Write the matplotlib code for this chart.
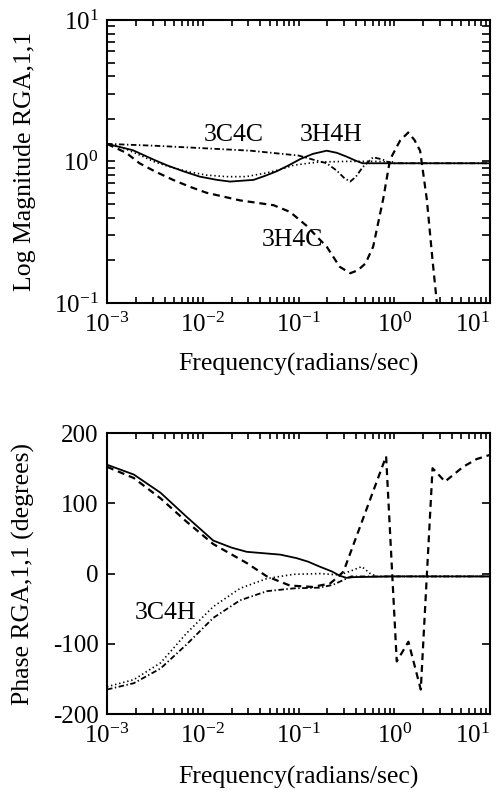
import matplotlib
matplotlib.use('Agg')
import matplotlib.pyplot as plt
import numpy as np
from matplotlib.ticker import LogLocator, NullFormatter

plt.rcParams['font.family'] = ['Liberation Serif', 'DejaVu Serif']
plt.rcParams['mathtext.fontset'] = 'custom'
plt.rcParams['mathtext.rm'] = 'Liberation Serif'
plt.rcParams['mathtext.default'] = 'regular'
plt.rcParams['axes.unicode_minus'] = False
plt.rcParams['lines.scale_dashes'] = False

# --- magnitude data (log10 of frequency, magnitude) ---
mag_3h4h_lf = [-3.0, -2.73, -2.5, -2.377, -2.2, -2.03, -1.85, -1.715, -1.47, -1.35,
               -1.23, -1.1, -0.98, -0.85, -0.706, -0.6, -0.497, -0.4, -0.33, 0.0, 1.0]
mag_3h4h = [1.33, 1.20, 1.02, 0.94, 0.85, 0.78, 0.74, 0.72, 0.74, 0.79,
            0.85, 0.94, 1.04, 1.13, 1.19, 1.15, 1.08, 1.01, 0.97, 0.97, 0.97]

mag_dot_lf = [-3.0, -2.8, -2.66, -2.5, -2.31, -2.13, -1.96, -1.75, -1.55, -1.33,
              -1.18, -1.05, -0.9, -0.775, -0.5, -0.2, 0.0]
mag_dot = [1.33, 1.22, 1.11, 0.99, 0.90, 0.84, 0.80, 0.78, 0.78, 0.83,
           0.88, 0.94, 0.97, 0.99, 1.0, 1.0, 0.99]

mag_3c4c_lf = [-3.0, -2.5, -2.0, -1.5, -1.0, -0.85, -0.706, -0.6, -0.52, -0.46,
               -0.4, -0.33, -0.22, -0.12, -0.04, 1.0]
mag_3c4c = [1.33, 1.29, 1.24, 1.19, 1.10, 1.03, 0.97, 0.86, 0.76, 0.72,
            0.78, 0.91, 1.07, 1.03, 0.97, 0.97]

mag_3h4c_lf = [-3.0, -2.8, -2.66, -2.5, -2.31, -2.13, -1.96, -1.61, -1.26, -1.09,
               -0.914, -0.8, -0.706, -0.57, -0.46, -0.38, -0.3, -0.22, -0.116, -0.044,
               0.06, 0.146, 0.21, 0.27, 0.34, 0.40, 0.445]
mag_3h4c = [1.33, 1.15, 0.97, 0.85, 0.74, 0.66, 0.60, 0.53, 0.49, 0.44,
            0.35, 0.29, 0.25, 0.18, 0.162, 0.17, 0.19, 0.25, 0.54, 1.03,
            1.40, 1.60, 1.42, 1.19, 0.54, 0.2, 0.1]

# --- phase data (log10 of frequency, degrees) ---
ph_solid_lf = [-3.0, -2.72, -2.44, -2.17, -1.89, -1.7, -1.54, -1.19, -1.02, -0.9,
               -0.78, -0.65, -0.57, -0.5, -0.42, 0.0, 1.0]
ph_solid = [155, 141, 115, 81, 47, 37, 31, 27, 22, 17,
            10, 3, -3, -6, -5, -4, -4]

ph_dash_lf = [-3.0, -2.72, -2.44, -2.17, -1.89, -1.54, -1.33, -1.09, -0.85, -0.67,
              -0.59, -0.53, -0.085, 0.026, 0.148, 0.277, 0.40, 0.53, 0.72, 0.86, 1.0]
ph_dash = [152, 136, 107, 74, 42, 15, -4, -17, -19, -14,
           -5, 3, 167, -125, -97, -165, 150, 131, 152, 163, 169]

ph_dot_lf = [-3.0, -2.72, -2.44, -2.17, -1.89, -1.61, -1.33, -1.05, -0.77, -0.57,
             -0.43, -0.34, -0.25, -0.18, 1.0]
ph_dot = [-161, -151, -127, -85, -47, -21, -7, -1, 0, -2,
          5, 10, 0, -4, -4]

ph_dd_lf = [-3.0, -2.72, -2.44, -2.17, -1.89, -1.61, -1.33, -1.05, -0.78, -0.64,
            -0.53, -0.45, 1.0]
ph_dd = [-165, -156, -135, -101, -63, -38, -25, -21, -20, -16,
         -9, -4, -4]

xticks = [1e-3, 1e-2, 1e-1, 1e0, 1e1]
ph_ticks = [-200, -100, 0, 100, 200]

solid = dict(color='k', lw=1.3, ls='-')
dashed = dict(color='k', lw=1.6, dashes=(5, 3.5))
dotted = dict(color='k', lw=1.2, dashes=(1, 2))
dashdot = dict(color='k', lw=1.3, dashes=(4, 1.8, 1, 1.8))

fig = plt.figure(figsize=(5, 7.97), dpi=100)
ax1 = fig.add_axes([0.214, 0.620, 0.766, 0.355])
ax2 = fig.add_axes([0.214, 0.104, 0.766, 0.3526])

f = lambda lf: 10.0 ** np.asarray(lf)

ax1.plot(f(mag_dot_lf), mag_dot, **dotted)
ax1.plot(f(mag_3c4c_lf), mag_3c4c, **dashdot)
ax1.plot(f(mag_3h4c_lf), mag_3h4c, **dashed)
ax1.plot(f(mag_3h4h_lf), mag_3h4h, **solid)
ax1.set_xscale('log')
ax1.set_yscale('log')
ax1.set_xlim(1e-3, 1e1)
ax1.set_ylim(1e-1, 1e1)
ax1.text(0.0212, 1.54, '3C4C', fontsize=18.5, ha='center', va='center')
ax1.text(0.219, 1.54, '3H4H', fontsize=18.5, ha='center', va='center')
ax1.text(0.0855, 0.279, '3H4C', fontsize=18.5, ha='center', va='center')
ax1.set_xlabel('Frequency(radians/sec)', fontsize=18.5, va='top')
ax1.set_ylabel('Log Magnitude RGA,1,1', fontsize=18.5)
ax1.xaxis.set_label_coords(0.5, -0.177)
ax1.yaxis.set_label_coords(-0.185, 0.5)
ax1.yaxis.set_major_locator(LogLocator(base=10))
ax1.yaxis.set_minor_locator(LogLocator(base=10, subs=np.arange(2, 10)))
ax1.yaxis.set_minor_formatter(NullFormatter())

ax2.plot(f(ph_dot_lf), ph_dot, **dotted)
ax2.plot(f(ph_dd_lf), ph_dd, **dashdot)
ax2.plot(f(ph_dash_lf), ph_dash, **dashed)
ax2.plot(f(ph_solid_lf), ph_solid, **solid)
ax2.set_xscale('log')
ax2.set_xlim(1e-3, 1e1)
ax2.set_ylim(-200, 200)
ax2.set_yticks(ph_ticks)
ax2.text(0.00404, -56, '3C4H', fontsize=18.5, ha='center', va='center')
ax2.set_xlabel('Frequency(radians/sec)', fontsize=18.5, va='top')
ax2.set_ylabel('Phase RGA,1,1 (degrees)', fontsize=18.5)
ax2.xaxis.set_label_coords(0.5, -0.185)
ax2.yaxis.set_label_coords(-0.188, 0.5)

for ax in (ax1, ax2):
    ax.set_xticks(xticks)
    ax.xaxis.set_minor_locator(LogLocator(base=10, subs=np.arange(2, 10)))
    ax.xaxis.set_minor_formatter(NullFormatter())
    ax.tick_params(axis='both', which='both', direction='in', top=True, right=True,
                   labelsize=18, width=1.2)
    ax.tick_params(axis='x', which='both', length=4, pad=7)
    ax.tick_params(axis='y', which='both', length=6, pad=6)
    for s in ax.spines.values():
        s.set_linewidth(1.5)
    # keep the last decade label inside the figure
    ax.xaxis.get_major_ticks()[-1].label1.set_horizontalalignment('right')

fig.savefig('out.png', dpi=100)
